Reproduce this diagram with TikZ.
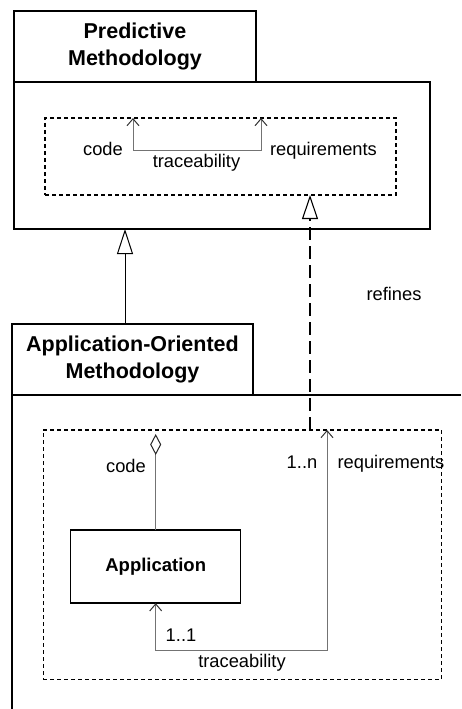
\documentclass[tikz,border=0pt]{standalone}
\usepackage{fontspec}
\setmainfont{Liberation Sans}
\usepackage{tikz}
\usetikzlibrary{positioning, arrows.meta}
\usetikzlibrary{calc}
\tikzstyle{tab} = [rectangle, draw=black, line width=1.6pt, outer sep=0pt, inner sep=0pt, minimum width=242pt, minimum height=71pt, align=center, font=\fontsize{21.5}{27}\selectfont\bfseries]
\tikzstyle{pkg} = [rectangle, draw=black, line width=1.6pt, outer sep=0pt, inner sep=0pt]
\tikzstyle{frame} = [rectangle, draw=black, line width=1.2pt, dash pattern=on 4pt off 3pt, outer sep=0pt, inner sep=0pt]
\tikzstyle{classbox} = [rectangle, draw=black, line width=1.5pt, outer sep=0pt, minimum width=170pt, minimum height=73pt, text centered, font=\fontsize{18.5}{22}\selectfont\bfseries]
\tikzstyle{lbl} = [inner sep=0pt, anchor=base, font=\fontsize{18.3}{22}\selectfont]
\tikzstyle{assoc} = [draw=black!55, line width=1pt, >={Straight Barb[length=7pt,width=12pt,black!80]}]
\tikzstyle{gen} = [draw=black, line width=1pt, -{Triangle[open,length=25pt,width=16pt,fill=white]}]
\tikzstyle{real} = [draw=black, line width=1.1pt, dash pattern=on 13pt off 6pt, -{Triangle[open,length=24pt,width=16pt,fill=white]}]
\tikzstyle{aggr} = [draw=black!55, line width=1pt, -{Diamond[open,length=21pt,width=11pt,black!85,fill=white]}]

\begin{document}
\begin{tikzpicture}[x=1pt,y=-1pt]
		\useasboundingbox (0,0) rectangle (461,709);
		% Predictive Methodology
		\node (predtab) [tab] at (135,46.5) {Predictive\\Methodology};
		\node (predbody) [pkg, anchor=north west, minimum width=416pt, minimum height=147pt] at (predtab.south west) {};
		\node (predinner) [frame, minimum width=351pt, minimum height=77pt] at (220.5,156.5) {};
		\coordinate (tcode) at (133,150);
		\coordinate (treq) at (261,150);
		\node (pcode) [lbl] at (103,155) {code};
		\node (ptrace) [lbl] at (196.5,167) {traceability};
		\node (preq) [lbl] at (323.5,155) {requirements};
		%traceability
		\draw [assoc,<->](tcode |- predinner.north) -- (tcode) -- (treq) -- (treq |- predinner.north);
		
		% Application-Oriented Methodology
		\node (aomtab) [tab, minimum width=241pt] at (132.5,359.5) {Application-Oriented\\Methodology};
		\coordinate (aomend) at (461,395);
		\draw [line width=1.6pt](aomend) -- (aomtab.south west) -- ++(0,320);
		\node (aominner) [frame, minimum width=398.5pt, minimum height=249.5pt] at (242.5,554.7) {};
		\node (appl) [classbox] at (155.7,566.7) {Application};
		\coordinate (diam) at (155.7,434);
		\coordinate (tturn) at (327,650);
		\node (acode) [lbl] at (126,472) {code};
		\node (amany) [lbl] at (302,468) {1..n};
		\node (areq) [lbl] at (391,468) {requirements};
		\node (aone) [lbl] at (181,641) {1..1};
		\node (atrace) [lbl] at (242,667) {traceability};
		%连接
		\draw [aggr](appl.north) -- (diam);
		\draw [assoc,<->](appl.south) |- (tturn) -- (tturn |- aominner.north);
		
		% generalization, refines
		\coordinate (gx) at (125,0);
		\coordinate (rx) at (310,0);
		\draw [gen](gx |- aomtab.north) -- (gx |- predbody.south);
		\draw [real](rx |- aominner.north) -- (rx |- predinner.south);
		\node (refines) [lbl] at (394,300) {refines};
		
	\end{tikzpicture}
\end{document}
